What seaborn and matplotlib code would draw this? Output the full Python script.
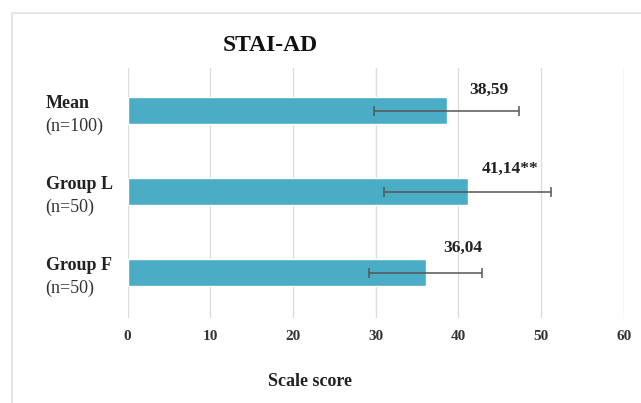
import matplotlib
matplotlib.use("Agg")
import matplotlib.pyplot as plt
import seaborn as sns
import pandas as pd
from matplotlib.patches import Rectangle

# STAI-AD scores by group: means with standard deviations
groups = ["Mean", "Group L", "Group F"]
sizes = ["(n=100)", "(n=50)", "(n=50)"]
means = [38.59, 41.14, 36.04]
sds = [8.8, 10.1, 6.8]
value_labels = ["38,59", "41,14**", "36,04"]
x_ticks = [0, 10, 20, 30, 40, 50, 60]

df = pd.DataFrame({"group": groups, "score": means})

sns.set_theme(style="white")
plt.rcParams["font.family"] = ["Liberation Serif", "DejaVu Serif"]

fig = plt.figure(figsize=(6.41, 4.03), dpi=100)
ax = fig.add_axes([0.199, 0.211, 0.774, 0.620])

bar_color = "#4BACC6"
sns.barplot(data=df, x="score", y="group", orient="h", color=bar_color,
            saturation=1, width=0.33, errorbar=None, ax=ax, zorder=2)

ax.errorbar(means, range(len(groups)), xerr=sds, fmt="none",
            ecolor="#555555", elinewidth=1.1, capsize=3.5, capthick=1.1, zorder=3)

ax.set_xlim(0, 60)
ax.set_ylim(2.56, -0.525)
ax.set_xticks(x_ticks)
ax.set_xticklabels([str(t) for t in x_ticks], fontsize=11, fontweight="bold", color="#333333")
ax.tick_params(axis="x", length=0, pad=9)
ax.set_yticks([])
ax.set_ylabel("")
ax.set_xlabel("")
for t in x_ticks:
    ax.axvline(t, color="#dddddd", lw=1, zorder=0)
for s in ax.spines.values():
    s.set_visible(False)

# Category labels: bold name above the sample size
for i, (g, n) in enumerate(zip(groups, sizes)):
    ax.annotate(g, xy=(0, i), xycoords=("axes fraction", "data"),
                xytext=(-82, 7), textcoords="offset pixels", ha="left", va="center",
                fontsize=13, fontweight="bold", color="#222222")
    ax.annotate(n, xy=(0, i), xycoords=("axes fraction", "data"),
                xytext=(-82, -16), textcoords="offset pixels", ha="left", va="center",
                fontsize=13, color="#333333")

# Value labels above the end of each bar
label_shift = [(42, 21), (42, 23), (37, 25)]
for i, (m, lab, (dx, dy)) in enumerate(zip(means, value_labels, label_shift)):
    ax.annotate(lab, xy=(m, i), xytext=(dx, dy), textcoords="offset pixels",
                ha="center", va="center", fontsize=12.5, fontweight="bold", color="#222222")

fig.text(0.421, 0.888, "STAI-AD", ha="center", va="center",
         fontsize=17, fontweight="bold", color="#111111")
fig.text(310 / 641, 1 - 381 / 403, "Scale score", ha="center", va="center",
         fontsize=13, fontweight="bold", color="#222222")

# Light frame around the chart area
fig.patches.append(Rectangle((12 / 641, -0.05), 1.2, (403 - 12.5) / 403 + 0.05,
                             transform=fig.transFigure, fill=False,
                             edgecolor="#e6e6e6", lw=1.5))

fig.savefig("out.png", dpi=100)
